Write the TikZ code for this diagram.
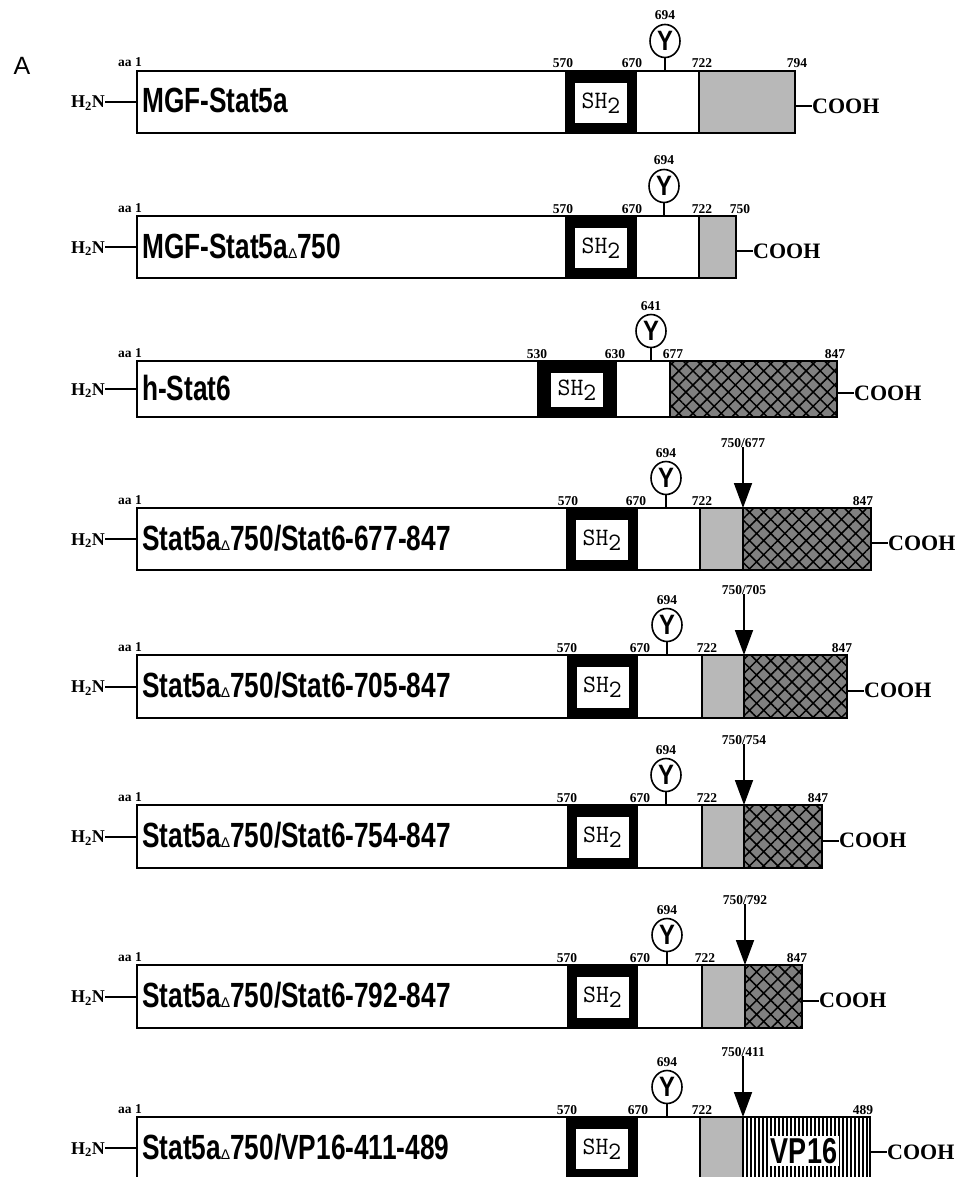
\documentclass[tikz,border=0pt]{standalone}
\usepackage{fontspec}
\setmainfont{Liberation Serif}
\newfontfamily\condsans[FakeStretch=0.75]{Liberation Sans}
\newfontfamily\ysans[FakeStretch=0.85]{Liberation Sans}
\newfontfamily\plainsans{Liberation Sans}
\usetikzlibrary{patterns.meta,arrows.meta,shapes.geometric}

\newcommand\dlt{{\plainsans\mdseries\fontsize{14}{14}\selectfont Δ}}

\tikzset{
  outline/.style={draw=black,line width=2pt},
  conn/.style={draw=black,line width=2pt},
  numlab/.style={font=\bfseries\fontsize{13.5}{13.5}\selectfont,inner sep=0pt,anchor=base},
  titlelab/.style={font=\condsans\bfseries\fontsize{35}{35}\selectfont,inner sep=0pt,anchor=base west},
  h2nlab/.style={font=\bfseries\fontsize{18}{18}\selectfont,inner sep=0pt,anchor=base east},
  coohlab/.style={font=\bfseries\fontsize{22}{22}\selectfont,inner sep=0pt,anchor=west},
  shbox/.style={fill=white,inner sep=0pt,minimum width=52pt,font=\ttfamily\fontsize{25}{25}\selectfont},
  ylolli/.style={ellipse,draw=black,line width=1.6pt,fill=white,minimum width=30pt,minimum height=33pt,inner sep=0pt,font=\ysans\bfseries\fontsize{28}{28}\selectfont},
  stip/.style={fill=black!28},
  xhatch/.style={preaction={fill=black!50},pattern={Hatch[angle=45,distance=10pt,line width=1.5pt]},pattern color=black},
  stripe/.style={draw=black,line width=1.7pt},
  cutarrow/.style={draw=black,line width=1.8pt,-{Triangle[length=25pt,width=18pt]}},
  vp/.style={fill=white,inner sep=2pt,font=\condsans\bfseries\fontsize{36}{36}\selectfont},
  panel/.style={font=\plainsans\fontsize{25}{25}\selectfont,inner sep=0pt},
}

\newcommand\corerow[5]{%
  \fill[black] (#3,0) rectangle (#4,#2);
  \node[shbox,minimum height={#2-22}] (#1sh) at ({(#3+#4)/2},{#2/2+1}) {SH\raisebox{-5pt}{2}};
  \node[titlelab] (#1title) at (142,{#2/2+11}) {#5};
  \node[h2nlab] (#1h2n) at (105,{#2/2+6}) {H\textsubscript{2}N};
  \coordinate (#1L) at (137,{#2/2});
  \draw[conn] (#1h2n.east |- #1L) -- (#1L);
  \node[numlab] (#1aa) at (130,-4) {aa 1};
}
\newcommand\lolli[3]{%
  \node[ylolli] (#1y) at (#2,-30) {Y};
  \coordinate (#1ys) at (#2,0);
  \draw[line width=1.5pt] (#1y.south) -- (#1ys);
  \node[numlab] (#1yn) at (#2,-51) {#3};
}
\newcommand\cutmark[3]{%
  \node[numlab] (#1cl) at (#2,-61) {#3};
  \coordinate (#1ct) at (#2,0);
  \draw[cutarrow] (#1cl.south) -- (#1ct);
}
\newcommand\cterm[3]{%
  \coordinate (#1R) at (#2,{#3/2+4});
  \node[coohlab] (#1cooh) at ({#2+17},{#3/2+4}) {COOH};
  \draw[conn] (#1R) -- (#1cooh.west);
}

\begin{document}
\begin{tikzpicture}[x=1pt,y=-1pt]
\useasboundingbox (0,0) rectangle (958,1177);
\clip (0,0) rectangle (958,1177);
\fill[white] (0,0) rectangle (958,1177);
\node[panel] (panelA) at (22,66) {A};

% Row 1
\begin{scope}[shift={(0,71)}]
  \corerow{a}{62}{565}{637}{MGF-Stat5a}
  \fill[stip] (699,0) rectangle (795,62);
  \draw[outline] (699,0) -- (699,62);
  \draw[outline] (137,0) rectangle (795,62);
  \lolli{a}{665}{694}
  \node[numlab] (a1) at (563,-3) {570};
  \node[numlab] (a2) at (632,-3) {670};
  \node[numlab] (a3) at (702,-3) {722};
  \node[numlab] (a4) at (797,-3) {794};
  \cterm{a}{795}{62}
\end{scope}

% Row 2
\begin{scope}[shift={(0,216)}]
  \corerow{b}{62}{565}{637}{MGF-Stat5a\dlt750}
  \fill[stip] (699,0) rectangle (736,62);
  \draw[outline] (699,0) -- (699,62);
  \draw[outline] (137,0) rectangle (736,62);
  \lolli{b}{664}{694}
  \node[numlab] (b1) at (563,-3) {570};
  \node[numlab] (b2) at (632,-3) {670};
  \node[numlab] (b3) at (702,-3) {722};
  \node[numlab] (b4) at (740,-3) {750};
  \cterm{b}{736}{62}
\end{scope}

% Row 3
\begin{scope}[shift={(0,361)}]
  \corerow{c}{56}{537}{617}{h-Stat6}
  \fill[xhatch] (670,0) rectangle (837,56);
  \draw[outline] (670,0) -- (670,56);
  \draw[outline] (137,0) rectangle (837,56);
  \lolli{c}{651}{641}
  \node[numlab] (c1) at (537,-3) {530};
  \node[numlab] (c2) at (615,-3) {630};
  \node[numlab] (c3) at (673,-3) {677};
  \node[numlab] (c4) at (835,-3) {847};
  \cterm{c}{837}{56}
\end{scope}

% Row 4
\begin{scope}[shift={(0,508)}]
  \corerow{d}{62}{566}{638}{Stat5a\dlt750/Stat6-677-847}
  \fill[stip] (700,0) rectangle (743,62);
  \fill[xhatch] (743,0) rectangle (871,62);
  \draw[outline] (700,0) -- (700,62);
  \draw[outline] (743,0) -- (743,62);
  \draw[outline] (137,0) rectangle (871,62);
  \lolli{d}{666}{694}
  \cutmark{d}{743}{750/677}
  \node[numlab] (d1) at (568,-3) {570};
  \node[numlab] (d2) at (636,-3) {670};
  \node[numlab] (d3) at (702,-3) {722};
  \node[numlab] (d4) at (863,-3) {847};
  \cterm{d}{871}{62}
\end{scope}

% Row 5
\begin{scope}[shift={(0,655)}]
  \corerow{e}{63}{567}{638}{Stat5a\dlt750/Stat6-705-847}
  \fill[stip] (702,0) rectangle (744,63);
  \fill[xhatch] (744,0) rectangle (847,63);
  \draw[outline] (702,0) -- (702,63);
  \draw[outline] (744,0) -- (744,63);
  \draw[outline] (137,0) rectangle (847,63);
  \lolli{e}{667}{694}
  \cutmark{e}{744}{750/705}
  \node[numlab] (e1) at (567,-3) {570};
  \node[numlab] (e2) at (640,-3) {670};
  \node[numlab] (e3) at (707,-3) {722};
  \node[numlab] (e4) at (842,-3) {847};
  \cterm{e}{847}{63}
\end{scope}

% Row 6
\begin{scope}[shift={(0,805)}]
  \corerow{f}{63}{567}{638}{Stat5a\dlt750/Stat6-754-847}
  \fill[stip] (702,0) rectangle (744,63);
  \fill[xhatch] (744,0) rectangle (822,63);
  \draw[outline] (702,0) -- (702,63);
  \draw[outline] (744,0) -- (744,63);
  \draw[outline] (137,0) rectangle (822,63);
  \lolli{f}{666}{694}
  \cutmark{f}{744}{750/754}
  \node[numlab] (f1) at (567,-3) {570};
  \node[numlab] (f2) at (640,-3) {670};
  \node[numlab] (f3) at (707,-3) {722};
  \node[numlab] (f4) at (818,-3) {847};
  \cterm{f}{822}{63}
\end{scope}

% Row 7
\begin{scope}[shift={(0,965)}]
  \corerow{g}{63}{567}{638}{Stat5a\dlt750/Stat6-792-847}
  \fill[stip] (702,0) rectangle (745,63);
  \fill[xhatch] (745,0) rectangle (802,63);
  \draw[outline] (702,0) -- (702,63);
  \draw[outline] (745,0) -- (745,63);
  \draw[outline] (137,0) rectangle (802,63);
  \lolli{g}{667}{694}
  \cutmark{g}{745}{750/792}
  \node[numlab] (g1) at (567,-3) {570};
  \node[numlab] (g2) at (640,-3) {670};
  \node[numlab] (g3) at (705,-3) {722};
  \node[numlab] (g4) at (797,-3) {847};
  \cterm{g}{802}{63}
\end{scope}

% Row 8
\begin{scope}[shift={(0,1117)}]
  \corerow{h}{62}{566}{638}{Stat5a\dlt750/VP16-411-489}
  \fill[stip] (700,0) rectangle (743,62);
  \foreach \xx in {747,751,...,867} \draw[stripe] (\xx,0) -- (\xx,62);
  \node[vp] (hvp) at (804,34) {VP16};
  \draw[outline] (700,0) -- (700,62);
  \draw[outline] (743,0) -- (743,62);
  \draw[outline] (137,0) rectangle (870,62);
  \lolli{h}{667}{694}
  \cutmark{h}{743}{750/411}
  \node[numlab] (h1) at (567,-3) {570};
  \node[numlab] (h2) at (638,-3) {670};
  \node[numlab] (h3) at (702,-3) {722};
  \node[numlab] (h4) at (863,-3) {489};
  \cterm{h}{870}{62}
\end{scope}
\end{tikzpicture}
\end{document}
